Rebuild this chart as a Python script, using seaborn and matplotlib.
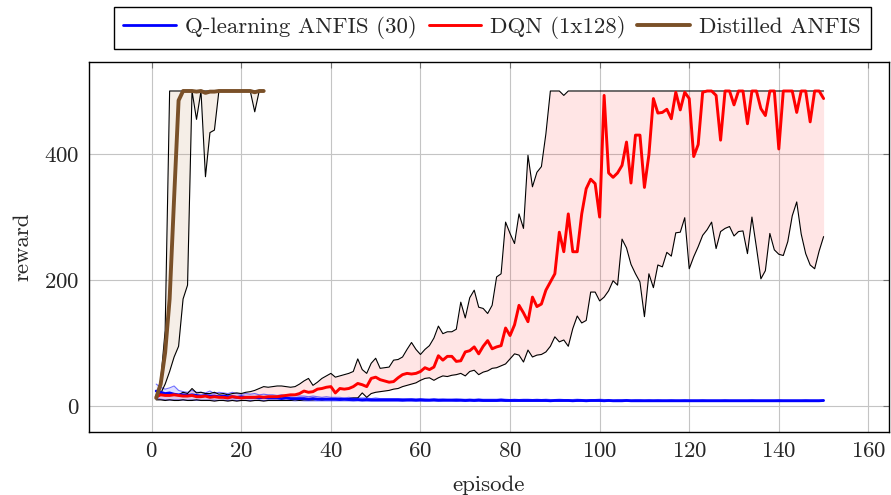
import numpy as np
import pandas as pd
import matplotlib
matplotlib.use("Agg")
import matplotlib.pyplot as plt
import seaborn as sns

# ---------------- data ----------------
episodes = list(range(1, 151))
episodes_dist = list(range(1, 26))

q_mean = [24, 22, 20, 21, 19, 18, 18, 17, 18, 17,
          16, 17, 16, 16, 15, 16, 15, 15, 14, 15,
          14, 14, 14, 13, 14, 13, 13, 13, 12, 13,
          12, 12, 12, 12, 11, 12, 11, 11, 11, 11,
          11, 10.5, 11, 10.5, 10.5, 10.5, 10, 10.5, 10, 10,
          10, 10, 10, 10, 10, 9.5, 10, 10, 9.5, 10,
          9.5, 9.5, 10, 9.5, 9.5, 9.5, 9.5, 9.5, 9.5, 9,
          9.5, 9, 9.5, 9, 9, 9, 9, 9.5, 9, 9,
          9, 9, 9, 9, 9, 9, 9, 9, 8.5, 9,
          9, 9, 9, 8.5, 9, 9, 8.5, 9, 9, 9,
          8.5, 9, 8.5, 8.5, 8.5, 9, 8.5, 8.5, 8.5, 8.5,
          8.5, 8.5, 8.5, 8.5, 8.5, 8.5, 8.5, 8.5, 8.5, 8.5,
          8.5, 8.5, 8.5, 8.5, 8.5, 8.5, 8.5, 8.5, 8.5, 8.5,
          8.5, 8.5, 8.5, 8.5, 8.5, 8.5, 8.5, 8.5, 8.5, 8.5,
          8.5, 8.5, 8.5, 8.5, 8.5, 8.5, 8.5, 8.5, 8.5, 9]
q_max = [35, 30, 27, 29, 32, 25, 23, 22, 25, 22,
         22, 21, 24, 20, 22, 21, 20, 22, 20, 19,
         20, 19, 20, 18, 19, 18, 18, 17, 18, 17,
         16, 17, 16, 16, 15, 16, 15, 14, 15, 14,
         14, 14, 13, 14, 13, 13, 13, 13, 12, 13,
         12, 12, 12, 12, 12, 12, 11.5, 12, 11.5, 12,
         11.5, 11, 11.5, 11, 11.5, 11, 11, 11.5, 11, 11,
         11, 11, 11.5, 11, 11, 11, 11, 11.5, 11, 10.5,
         11, 10.5, 11, 11, 10.5, 11, 10.5, 11, 10.5, 10.5,
         11, 10.5, 10.5, 10.5, 11, 10.5, 10.5, 10.5, 10.5, 11,
         10.5, 10.5, 10, 10.5, 10.5, 10.5, 10, 10.5, 10.5, 10,
         10.5, 10, 10.5, 10, 10, 10.5, 10, 10, 10.5, 10,
         10, 10, 10.5, 10, 10, 10, 10, 10.5, 10, 10,
         10, 10, 10, 10.5, 10, 10, 10, 10, 10, 10.5,
         10, 10, 10, 10, 10, 10.5, 10, 10, 10, 10]
q_min = [12, 11, 10, 10, 10, 10, 10, 9.5, 10, 9.5,
         9.5, 9.5, 9.5, 9.5, 9, 9.5, 9, 9.5, 9, 9,
         9, 9, 9, 9, 9, 9, 9, 9, 9, 9,
         9, 8.5, 9, 8.5, 8.5, 8.5, 8.5, 8.5, 8.5, 8.5,
         8.5, 8.5, 8.5, 8.5, 8, 8.5, 8, 8, 8, 8,
         8, 8, 8, 8, 8, 8, 8, 8, 8, 8,
         8, 8, 8, 7.5, 8, 8, 8, 7.5, 8, 7.5,
         8, 7.5, 8, 7.5, 7.5, 7.5, 7.5, 8, 7.5, 7.5,
         7.5, 7.5, 7.5, 7.5, 7.5, 7.5, 7.5, 7.5, 7.5, 7.5,
         7.5, 7.5, 7.5, 7.5, 7.5, 7.5, 7.5, 7.5, 7.5, 7.5,
         7.5, 7.5, 7.5, 7.5, 7.5, 7.5, 7.5, 7.5, 7.5, 7.5,
         7.5, 7.5, 7.5, 7.5, 7.5, 7.5, 7.5, 7.5, 7.5, 7.5,
         7.5, 7.5, 7.5, 7.5, 7.5, 7.5, 7.5, 7.5, 7.5, 7.5,
         7.5, 7.5, 7.5, 7.5, 7.5, 7.5, 7.5, 7.5, 7.5, 7.5,
         7.5, 7.5, 7.5, 7.5, 7.5, 7.5, 7.5, 7.5, 7.5, 8]

dqn_mean = [15, 18, 17, 17, 18, 17, 16, 16, 17, 15,
            15, 16, 14, 15, 14, 14, 13, 15, 14, 13,
            14, 14, 14, 15, 14, 15, 15, 15, 16, 17,
            18, 18, 20, 24, 22, 23, 27, 28, 30, 31,
            21, 28, 27, 28, 31, 36, 34, 31, 44, 46,
            42, 40, 38, 39, 45, 50, 52, 51, 52, 55,
            61, 58, 62, 80, 73, 79, 79, 71, 72, 86,
            88, 94, 83, 95, 104, 91, 94, 96, 124, 112,
            129, 160, 148, 134, 173, 158, 162, 184, 197, 210,
            276, 245, 305, 245, 245, 305, 345, 360, 353, 300,
            493, 370, 363, 370, 382, 419, 354, 430, 430, 347,
            399, 488, 465, 466, 471, 456, 498, 470, 498, 488,
            396, 415, 498, 500, 500, 493, 422, 500, 500, 478,
            500, 500, 448, 500, 500, 472, 461, 500, 500, 408,
            500, 500, 500, 466, 500, 500, 451, 500, 500, 488]
dqn_max = [18, 20, 18, 20, 19, 18, 22, 20, 28, 21,
           22, 20, 20, 22, 19, 20, 18, 20, 21, 20,
           22, 23, 25, 28, 31, 30, 31, 32, 32, 31,
           30, 31, 35, 40, 44, 33, 38, 44, 48, 52,
           46, 48, 50, 52, 55, 75, 58, 52, 68, 76,
           60, 61, 62, 73, 74, 78, 90, 101, 90, 82,
           90, 96, 108, 127, 115, 118, 118, 122, 165, 140,
           172, 184, 157, 155, 147, 160, 205, 210, 292, 274,
           258, 305, 282, 398, 348, 371, 380, 432, 500, 500,
           500, 493, 500, 500, 500, 500, 500, 500, 500, 500,
           500, 500, 500, 500, 500, 500, 500, 500, 500, 500,
           500, 500, 500, 500, 500, 500, 500, 500, 500, 500,
           500, 500, 500, 500, 500, 500, 500, 500, 500, 500,
           500, 500, 500, 500, 500, 500, 500, 500, 500, 500,
           500, 500, 500, 500, 500, 500, 500, 500, 500, 500]
dqn_min = [10, 10, 9, 10, 9, 9, 10, 9, 9, 10,
           9, 9, 9, 8, 9, 9, 8, 9, 8, 9,
           9, 8, 9, 9, 8, 9, 9, 9, 9, 9,
           9, 10, 9, 10, 10, 10, 11, 10, 11, 11,
           11, 12, 12, 12, 13, 13, 21, 14, 20, 22,
           23, 24, 25, 27, 28, 31, 33, 35, 37, 41,
           44, 45, 41, 45, 48, 47, 49, 50, 52, 48,
           55, 57, 50, 54, 56, 60, 61, 64, 67, 75,
           83, 81, 70, 89, 78, 81, 82, 86, 95, 110,
           102, 105, 95, 123, 143, 132, 136, 181, 181, 167,
           173, 183, 199, 192, 265, 251, 225, 210, 197, 142,
           210, 188, 224, 221, 244, 238, 275, 276, 299, 218,
           237, 253, 271, 280, 292, 250, 277, 282, 285, 270,
           277, 278, 242, 300, 252, 202, 215, 274, 248, 241,
           239, 261, 302, 324, 273, 242, 224, 218, 246, 269]

dist_mean = [13, 35, 85, 170, 330, 485, 500, 500, 500, 499,
             500, 497, 499, 499, 500, 500, 500, 500, 500, 500,
             500, 500, 498, 500, 500]
dist_max = [16, 40, 120, 500, 500, 500, 500, 500, 500, 500,
            500, 500, 500, 500, 500, 500, 500, 500, 500, 500,
            500, 500, 500, 500, 500]
dist_min = [12, 20, 35, 55, 78, 95, 170, 192, 500, 455,
            500, 364, 434, 438, 500, 500, 500, 500, 500, 500,
            500, 500, 467, 500, 500]

labels = ["Q-learning ANFIS (30)", "DQN (1x128)", "Distilled ANFIS"]
x_ticks = [0, 20, 40, 60, 80, 100, 120, 140, 160]
y_ticks = [0, 200, 400]

# ---------------- style ----------------
sns.set_style("white")
plt.rcParams["font.family"] = ["cmr10", "DejaVu Serif"]
plt.rcParams["mathtext.fontset"] = "cm"
plt.rcParams["axes.unicode_minus"] = False
plt.rcParams["axes.formatter.use_mathtext"] = True

BLUE = "#0000ff"
RED = "#ff0000"
BROWN = "#7a5028"
FS = 16.5

fig = plt.figure(figsize=(8.91, 4.95), dpi=100)
ax = fig.add_axes([89 / 891, 1 - 432 / 495, 800 / 891, 370 / 495])

df_q = pd.DataFrame({"episode": episodes, "reward": q_mean, "lo": q_min, "hi": q_max})
df_d = pd.DataFrame({"episode": episodes, "reward": dqn_mean, "lo": dqn_min, "hi": dqn_max})
df_a = pd.DataFrame({"episode": episodes_dist, "reward": dist_mean, "lo": dist_min, "hi": dist_max})

# Q-learning ANFIS
ax.fill_between(df_q["episode"], df_q["lo"], df_q["hi"], color=BLUE, alpha=0.12, lw=0, zorder=2)
ax.plot(df_q["episode"], df_q["lo"], color=BLUE, alpha=0.55, lw=0.8, zorder=3)
ax.plot(df_q["episode"], df_q["hi"], color=BLUE, alpha=0.55, lw=0.8, zorder=3)
sns.lineplot(data=df_q, x="episode", y="reward", color=BLUE, lw=2.0, label=labels[0], ax=ax, zorder=4)

# DQN
ax.fill_between(df_d["episode"], df_d["lo"], df_d["hi"], color=RED, alpha=0.1, lw=0, zorder=2)
ax.plot(df_d["episode"], df_d["lo"], color="black", lw=0.8, zorder=3)
ax.plot(df_d["episode"], df_d["hi"], color="black", lw=0.8, zorder=3)
sns.lineplot(data=df_d, x="episode", y="reward", color=RED, lw=2.1, label=labels[1], ax=ax, zorder=4)

# Distilled ANFIS
ax.fill_between(df_a["episode"], df_a["lo"], df_a["hi"], color="#c8a27c", alpha=0.18, lw=0, zorder=2)
ax.plot(df_a["episode"], df_a["lo"], color="black", lw=0.8, zorder=3)
ax.plot(df_a["episode"], df_a["hi"], color="black", lw=0.8, zorder=3)
sns.lineplot(data=df_a, x="episode", y="reward", color=BROWN, lw=2.8, label=labels[2], ax=ax, zorder=5)

ax.set_xlim(-14, 164.6)
ax.set_ylim(-41, 546)
ax.set_xticks(x_ticks)
ax.set_yticks(y_ticks)
ax.grid(True, color="#c4c4c4", lw=0.8)
ax.set_axisbelow(True)
for s in ax.spines.values():
    s.set_color("black")
    s.set_linewidth(1.0)
ax.tick_params(direction="in", top=True, right=True, length=4, width=0.8,
               color="0.45", labelsize=FS, pad=7)
ax.set_xlabel("episode", fontsize=FS, labelpad=10)
ax.set_ylabel("reward", fontsize=FS, labelpad=8)

leg = ax.legend(loc="lower center", bbox_to_anchor=(0.504, 1.035), ncol=3,
                frameon=True, fancybox=False, edgecolor="black", framealpha=1,
                fontsize=FS, handlelength=2.3, columnspacing=0.5,
                handletextpad=0.4, borderpad=0.42, borderaxespad=0)
leg.get_frame().set_linewidth(1.0)

fig.savefig("out.png", dpi=100)
